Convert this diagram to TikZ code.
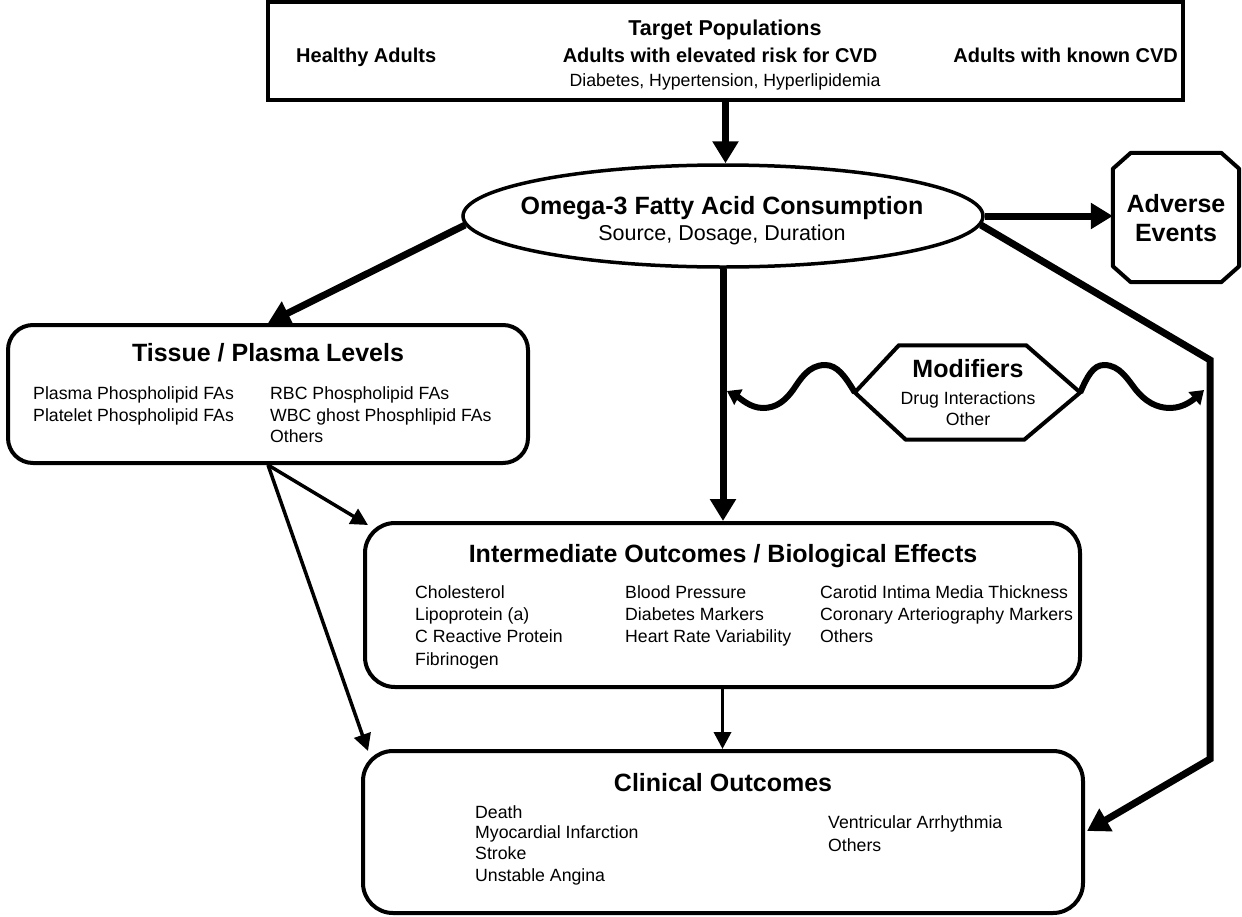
\documentclass[tikz,border=0pt]{standalone}
\usepackage{fontspec}
\setmainfont{Liberation Sans}
\usetikzlibrary{arrows.meta,shapes.geometric,calc}
\begin{document}
\begin{tikzpicture}[x=1pt,y=-1pt,
  box/.style={draw,line width=4pt,inner sep=0pt},
  thickarr/.style={line width=7pt,-{Triangle[length=22pt,width=25pt]}},
  thinarr/.style={line width=3.5pt,-{Triangle[length=17pt,width=17pt]}},
  wavearr/.style={line width=6pt,-{Triangle[length=13pt,width=17pt]}},
  ttl/.style={font=\bfseries\fontsize{25}{29}\selectfont,inner sep=0pt,anchor=base},
  toptl/.style={font=\bfseries\fontsize{21.5}{25}\selectfont,inner sep=0pt,anchor=base},
  subh/.style={font=\bfseries\fontsize{20}{24}\selectfont,inner sep=0pt,anchor=base},
  bodyt/.style={font=\fontsize{17.7}{21.5}\selectfont,inner sep=0pt,anchor=base west},
  bodyc/.style={font=\fontsize{17.7}{21.5}\selectfont,inner sep=0pt,anchor=base},
]
\useasboundingbox (0,0) rectangle (1242,916);
\fill[white] (0,0) rectangle (1242,916);

% Target populations box
\node[box,minimum width=915pt,minimum height=98pt] (top) at (725.5,51) {};
\node[toptl] (toptitle) at (725,35) {Target Populations};
\node[subh,anchor=base west] (healthy) at (296,62) {Healthy Adults};
\node[subh] (elev) at (720,62) {Adults with elevated risk for CVD};
\node[subh,anchor=base east] (known) at (1178,62) {Adults with known CVD};
\node[bodyc] (diab) at (725,86) {Diabetes, Hypertension, Hyperlipidemia};

% Omega-3 ellipse
\node[box,ellipse,line width=3.5pt,minimum width=520pt,minimum height=102pt] (ell) at (723,216) {};
\node[ttl] (omtitle) at (722,214) {Omega-3 Fatty Acid Consumption};
\node[font=\fontsize{21.5}{25}\selectfont,inner sep=0pt,anchor=base] (omsub) at (722,240) {Source, Dosage, Duration};

% Adverse events
\node[minimum width=126pt,minimum height=129pt,inner sep=0pt] (adv) at (1176,217.5) {};
\draw[line width=4pt,line join=round]
  ([xshift=18pt]adv.north west) -- ([xshift=-18pt]adv.north east)
  -- ([yshift=-16pt]adv.north east) -- ([yshift=16pt]adv.south east)
  -- ([xshift=-18pt]adv.south east) -- ([xshift=18pt]adv.south west)
  -- ([yshift=16pt]adv.south west) -- ([yshift=-16pt]adv.north west) -- cycle;
\node[ttl] (advt1) at (1176,212) {Adverse};
\node[ttl] (advt2) at (1176,241) {Events};

% Tissue / plasma levels
\node[box,rounded corners=25pt,minimum width=520pt,minimum height=138pt] (tissue) at (268,394) {};
\node[ttl] (tistitle) at (268,361) {Tissue / Plasma Levels};
\node[bodyt] (t1) at (33,399) {Plasma Phospholipid FAs};
\node[bodyt] (t2) at (33,421) {Platelet Phospholipid FAs};
\node[bodyt] (t3) at (270,399) {RBC Phospholipid FAs};
\node[bodyt] (t4) at (270,421) {WBC ghost Phosphlipid FAs};
\node[bodyt] (t5) at (270,442) {Others};

% Modifiers hexagon
\node[minimum width=225pt,minimum height=94pt,inner sep=0pt] (mod) at (967.5,392.5) {};
\draw[line width=4pt,line join=miter]
  (mod.west) -- ([xshift=44pt]mod.north west) -- ([xshift=-54pt]mod.north east)
  -- (mod.east) -- ([xshift=-56pt]mod.south east) -- ([xshift=51pt]mod.south west) -- cycle;
\node[ttl] (modt) at (968,377) {Modifiers};
\node[bodyc] (modb1) at (968,404) {Drug Interactions};
\node[bodyc] (modb2) at (968,425) {Other};

% Intermediate outcomes
\node[box,rounded corners=30pt,minimum width=715pt,minimum height=164pt] (inter) at (722.5,605) {};
\node[ttl] (intitle) at (723,562) {Intermediate Outcomes / Biological Effects};
\node[bodyt] (i1) at (415,598) {Cholesterol};
\node[bodyt] (i2) at (415,620) {Lipoprotein (a)};
\node[bodyt] (i3) at (415,642) {C Reactive Protein};
\node[bodyt] (i4) at (415,665) {Fibrinogen};
\node[bodyt] (i5) at (625,598) {Blood Pressure};
\node[bodyt] (i6) at (625,620) {Diabetes Markers};
\node[bodyt] (i7) at (625,642) {Heart Rate Variability};
\node[bodyt] (i8) at (820,598) {Carotid Intima Media Thickness};
\node[bodyt] (i9) at (820,620) {Coronary Arteriography Markers};
\node[bodyt] (i10) at (820,642) {Others};

% Clinical outcomes
\node[box,rounded corners=30pt,minimum width=720pt,minimum height=162pt] (clin) at (723,832) {};
\node[ttl] (cltitle) at (723,791) {Clinical Outcomes};
\node[bodyt] (c1) at (475,818) {Death};
\node[bodyt] (c2) at (475,838) {Myocardial Infarction};
\node[bodyt] (c3) at (475,859) {Stroke};
\node[bodyt] (c4) at (475,881) {Unstable Angina};
\node[bodyt] (c5) at (828,828) {Ventricular Arrhythmia};
\node[bodyt] (c6) at (828,851) {Others};

% helper coordinates
\coordinate (rc1) at (1210,360);
\coordinate (rc2) at (1210,759);
\coordinate (wl) at (727,391);
\coordinate (wr) at (1204,390);

% connectors
\draw[thickarr] (top.south) -- (top.south |- ell.north);
\draw[thickarr] (ell.east) -- (ell.east -| adv.west);
\draw[thickarr] (ell.182) -- (tissue.north);
\draw[thickarr] (ell.south) -- (ell.south |- inter.north);
\draw[thickarr,line join=miter] (ell.-2.5) -- (rc1) -- (rc2) -- ([xshift=2pt,yshift=1pt]clin.east);
\draw[thinarr] (tissue.south) -- ([xshift=5pt,yshift=-4pt]inter.north west);
\draw[thinarr] (tissue.south) -- ([xshift=7pt,yshift=-2pt]clin.north west);
\draw[thinarr] (inter.south) -- (inter.south |- clin.north);

% wavy modifier arrows
\draw[wavearr] (mod.west) .. controls (845,376) and (837,365) .. (825,365)
  .. controls (808,365) and (800,380) .. (793,390)
  .. controls (785,401) and (776,408) .. (763,408)
  .. controls (750,408) and (740,398) .. (wl);
\draw[wavearr] (mod.east) .. controls (1087,377) and (1093,365) .. (1104,365)
  .. controls (1120,365) and (1128,380) .. (1136,390)
  .. controls (1145,401) and (1156,408) .. (1170,408)
  .. controls (1184,408) and (1194,399) .. (wr);
\end{tikzpicture}
\end{document}
